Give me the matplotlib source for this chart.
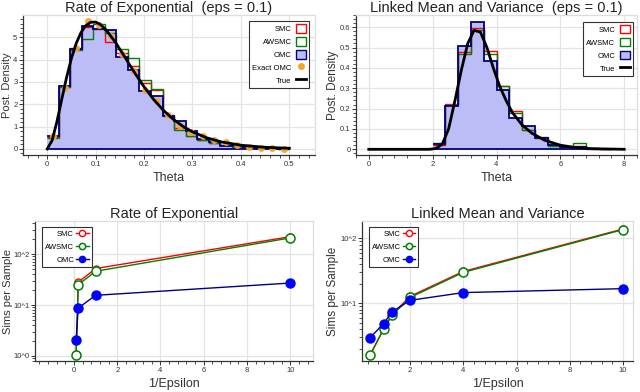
import numpy as np
import matplotlib.pyplot as plt
from matplotlib.patches import Patch
from matplotlib.lines import Line2D
from matplotlib.ticker import AutoMinorLocator, MultipleLocator, FuncFormatter, LogLocator, NullFormatter

plt.rcParams['font.family'] = ['Liberation Sans', 'DejaVu Sans']

# --- top left: rate of exponential posterior (21 bins over 0..0.5)
rate_nbins = 21
rate_smc = [0.55, 2.77, 4.50, 5.45, 5.36, 4.80, 4.29, 3.72, 2.95, 2.65, 1.53,
            0.94, 0.57, 0.42, 0.28, 0.18, 0.12, 0.07, 0.05, 0.03, 0.02]
rate_awsmc = [0.50, 2.77, 4.42, 4.90, 5.58, 5.18, 4.48, 4.06, 3.07, 2.69, 1.46,
              0.83, 0.57, 0.42, 0.25, 0.18, 0.10, 0.08, 0.05, 0.03, 0.02]
rate_omc = [0.57, 2.83, 4.46, 5.50, 5.36, 5.30, 4.10, 3.54, 2.57, 2.35, 1.46,
            1.24, 0.79, 0.45, 0.30, 0.12, 0.15, 0.08, 0.05, 0.04, 0.02]
rate_exact = [0.57, 2.72, 4.50, 5.70, 5.55, 5.03, 4.26, 3.47, 2.65, 2.13, 1.53,
              1.04, 0.74, 0.60, 0.42, 0.30, 0.16, 0.10, 0.06, 0.03, 0.015]
rate_true_x = [0, 0.01, 0.02, 0.03, 0.04, 0.05, 0.06, 0.07, 0.08, 0.09, 0.10, 0.11,
               0.12, 0.14, 0.16, 0.18, 0.20, 0.22, 0.24, 0.26, 0.28, 0.30, 0.33,
               0.36, 0.40, 0.45, 0.50]
rate_true_y = [0, 0.375, 1.217, 2.219, 3.198, 4.051, 4.729, 5.217, 5.524, 5.667,
               5.672, 5.563, 5.365, 4.799, 4.118, 3.424, 2.778, 2.208, 1.727, 1.332,
               1.015, 0.765, 0.493, 0.313, 0.167, 0.074, 0.032]

# --- top right: linked mean and variance (14 bins over 2.0..7.6)
lmv_lo, lmv_hi, lmv_nbins = 2.0, 7.6, 14
lmv_smc = [0.020, 0.223, 0.480, 0.595, 0.485, 0.311, 0.190, 0.095, 0.059, 0.026,
           0.010, 0.016, 0.003, 0.0]
lmv_awsmc = [0.033, 0.218, 0.470, 0.587, 0.469, 0.311, 0.180, 0.095, 0.054, 0.016,
             0.010, 0.033, 0.005, 0.0]
lmv_omc = [0.026, 0.213, 0.510, 0.628, 0.434, 0.292, 0.152, 0.115, 0.054, 0.021,
           0.010, 0.013, 0.003, 0.003]
lmv_true_x = [0, 1.9, 2.1, 2.3, 2.5, 2.7, 2.9, 3.1, 3.3, 3.5, 3.7, 3.9, 4.1, 4.3,
              4.5, 4.8, 5.1, 5.5, 6.0, 6.5, 7.0, 8.0]
lmv_true_y = [0, 0, 0.004, 0.025, 0.10, 0.24, 0.39, 0.52, 0.585, 0.575, 0.50, 0.40,
              0.31, 0.24, 0.18, 0.12, 0.08, 0.045, 0.02, 0.008, 0.003, 0]

# --- bottom: simulations per sample vs 1/epsilon
rate_inv_eps = [0.1, 0.2, 1, 10]
rate_sims_smc = [1.1, 28, 52, 220]
rate_sims_awsmc = [1.06, 25, 46, 208]
rate_sims_omc = [2.1, 8.7, 15.5, 27]

lmv_inv_eps = [0.5, 1, 1.333, 2, 4, 10]
lmv_sims_smc = [1.6, 4.0, 6.8, 12.8, 31, 140]
lmv_sims_awsmc = [1.6, 3.95, 6.6, 12.3, 30, 137]
lmv_sims_omc = [2.95, 4.85, 7.4, 11.1, 14.6, 16.8]

RED, GREEN, NAVY, BLUE = '#ff0000', '#008000', '#000080', '#0000ff'
FILL = '#bcbcf6'
ORANGE = '#f5a52c'
W, H = 640, 392

fig = plt.figure(figsize=(6.4, 3.92), dpi=100)


def make_ax(x0, y0, x1, y1):
    return fig.add_axes([x0 / W, 1 - y1 / H, (x1 - x0) / W, (y1 - y0) / H])


def style(ax, title, xlabel, ylabel, ylab_px=None):
    ax.set_title(title, fontsize=10.5, pad=2, color='#222222')
    ax.set_xlabel(xlabel, fontsize=9, labelpad=3, color='#333333')
    ax.set_ylabel(ylabel, fontsize=8.5 if ylab_px is None else 8, labelpad=1,
                  color='#333333')
    if ylab_px is not None:
        # keep the label just inside the left figure edge
        ax.yaxis.set_label_coords(ylab_px / W, 0.5, transform=fig.transFigure)
        ax.yaxis.label.set_position((ylab_px / W, ax.get_position().y0 + ax.get_position().height / 2))
    ax.grid(True, which='major', color='#e4e4e4', lw=0.9)
    ax.set_axisbelow(True)
    for s in ('top', 'right'):
        ax.spines[s].set_color('#dddddd')
        ax.spines[s].set_linewidth(0.9)
    for s in ('left', 'bottom'):
        ax.spines[s].set_color('#333333')
        ax.spines[s].set_linewidth(0.9)
    ax.tick_params(which='major', length=3, width=0.7, labelsize=5.5,
                   colors='#333333', pad=1)
    ax.tick_params(which='minor', length=2, width=0.6, colors='#333333')


def hist_panel(ax, edges, smc, awsmc, omc):
    ax.stairs(omc, edges, fill=True, color=FILL, lw=0)
    ax.stairs(smc, edges, color=RED, lw=1.0, baseline=None)
    ax.stairs(awsmc, edges, color=GREEN, lw=1.0, baseline=None)
    ax.stairs(omc, edges, color=NAVY, lw=1.3, baseline=None)
    ax.plot([edges[0], edges[-1]], [0, 0], color=NAVY, lw=1.3)


def hist_legend(ax, extra, anchor):
    handles = [Patch(facecolor='white', edgecolor=RED, lw=1),
               Patch(facecolor='white', edgecolor=GREEN, lw=1),
               Patch(facecolor=FILL, edgecolor=NAVY, lw=1)] + extra[0]
    labels = ['SMC', 'AWSMC', 'OMC'] + extra[1]
    leg = ax.legend(handles, labels, loc='upper right', bbox_to_anchor=anchor,
                    markerfirst=False, fontsize=5.5, frameon=True, fancybox=False,
                    edgecolor='#333333', framealpha=1, handlelength=1.3,
                    handleheight=1.3, labelspacing=0.55, borderpad=0.4,
                    handletextpad=0.6, borderaxespad=0)
    leg.get_frame().set_linewidth(0.8)


# top left
ax = make_ax(23, 15, 315, 155)
edges = np.linspace(0, 0.5, rate_nbins + 1)
centers = (edges[:-1] + edges[1:]) / 2
hist_panel(ax, edges, rate_smc, rate_awsmc, rate_omc)
ax.plot(centers, rate_exact, 'o', color=ORANGE, ms=4, alpha=0.9)
ax.plot(rate_true_x, rate_true_y, color='black', lw=2.0)
ax.set_xlim(-0.05, 0.553)
ax.set_ylim(-0.27, 5.99)
ax.xaxis.set_major_locator(MultipleLocator(0.1))
ax.yaxis.set_major_locator(MultipleLocator(1))
ax.xaxis.set_minor_locator(AutoMinorLocator(5))
ax.yaxis.set_minor_locator(AutoMinorLocator(5))
ax.xaxis.set_major_formatter(FuncFormatter(lambda v, p: '0' if abs(v) < 1e-9 else f'{v:.1f}'))
style(ax, 'Rate of Exponential  (eps = 0.1)', 'Theta', 'Post. Density', ylab_px=12)
hist_legend(ax, ([Line2D([], [], marker='o', ls='', color=ORANGE, ms=4),
                  Line2D([], [], color='black', lw=2)], ['Exact OMC', 'True']),
            (0.98, 0.955))

# top right
ax = make_ax(356, 15, 637, 155)
edges = np.linspace(lmv_lo, lmv_hi, lmv_nbins + 1)
hist_panel(ax, edges, lmv_smc, lmv_awsmc, lmv_omc)
ax.plot(lmv_true_x, lmv_true_y, color='black', lw=2.0)
ax.set_xlim(-0.4, 8.4)
ax.set_ylim(-0.028, 0.66)
ax.xaxis.set_major_locator(MultipleLocator(2))
ax.yaxis.set_major_locator(MultipleLocator(0.1))
ax.xaxis.set_minor_locator(AutoMinorLocator(5))
ax.yaxis.set_minor_locator(AutoMinorLocator(5))
ax.yaxis.set_major_formatter(FuncFormatter(lambda v, p: '0' if abs(v) < 1e-9 else f'{v:.1f}'))
style(ax, 'Linked Mean and Variance  (eps = 0.1)', 'Theta', 'Post. Density')
hist_legend(ax, ([Line2D([], [], color='black', lw=2)], ['True']), (0.985, 0.95))


def sims_panel(ax, x, smc, awsmc, omc):
    ax.plot(x, smc, '-o', color=RED, mfc='white', mec=RED, ms=5, lw=1.0, mew=1.0,
            label='SMC')
    ax.plot(x, awsmc, '-o', color=GREEN, mfc='white', mec=GREEN, ms=6.5, lw=1.0,
            mew=1.1, label='AWSMC')
    ax.plot(x, omc, '-o', color=NAVY, mfc=BLUE, mec=BLUE, ms=6.5, lw=1.0, label='OMC')
    ax.set_yscale('log')
    ax.yaxis.set_major_locator(LogLocator(base=10))
    ax.yaxis.set_major_formatter(FuncFormatter(lambda v, p: f'10^{int(round(np.log10(v)))}'))
    ax.yaxis.set_minor_locator(LogLocator(base=10, subs=(2, 3, 4, 5, 6, 7, 8, 9)))
    ax.yaxis.set_minor_formatter(NullFormatter())
    ax.xaxis.set_major_locator(MultipleLocator(2))
    ax.xaxis.set_minor_locator(AutoMinorLocator(5))
    leg = ax.legend(loc='upper left', markerfirst=False, fontsize=5.5, frameon=True,
                    fancybox=False, edgecolor='#333333', framealpha=1,
                    handlelength=1.6, labelspacing=0.75, borderpad=0.4,
                    handletextpad=0.3, borderaxespad=0, bbox_to_anchor=(0.025, 0.955))
    leg.get_frame().set_linewidth(0.8)
    for h in leg.legend_handles:
        h.set_markersize(4.5)


# bottom left
ax = make_ax(35, 221, 313, 361)
sims_panel(ax, rate_inv_eps, rate_sims_smc, rate_sims_awsmc, rate_sims_omc)
ax.set_xlim(-1.8, 11.05)
ax.set_ylim(10 ** -0.1, 10 ** 2.65)
style(ax, 'Rate of Exponential', '1/Epsilon', 'Sims per Sample', ylab_px=13)

# bottom right
ax = make_ax(362, 221, 633, 361)
sims_panel(ax, lmv_inv_eps, lmv_sims_smc, lmv_sims_awsmc, lmv_sims_omc)
ax.set_xlim(0.19, 10.38)
ax.set_ylim(10 ** 0.108, 10 ** 2.27)
style(ax, 'Linked Mean and Variance', '1/Epsilon', 'Sims per Sample')

fig.savefig('out.png', dpi=100)
